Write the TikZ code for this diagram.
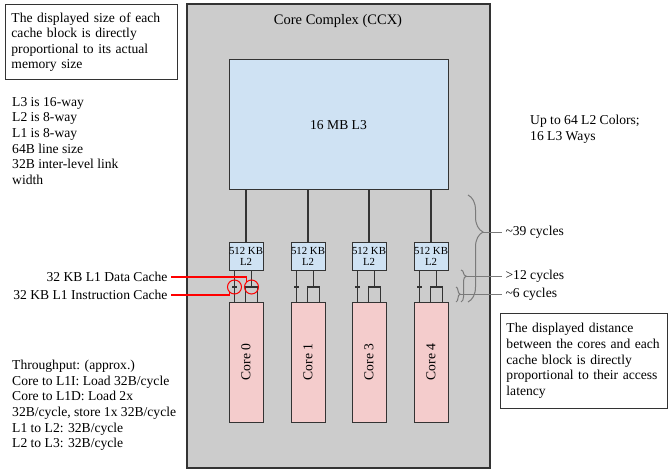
\documentclass[tikz,border=0pt]{standalone}
\usepackage{fontspec}
\setmainfont{Liberation Serif}
\usepackage{graphicx}
\usetikzlibrary{calc,decorations.pathreplacing}
\definecolor{ccxgray}{HTML}{CCCCCC}
\definecolor{cacheblue}{HTML}{CFE2F3}
\definecolor{corepink}{HTML}{F4CCCC}
\definecolor{wiregray}{HTML}{333333}
\definecolor{bracegray}{HTML}{7A7A7A}
\newcommand{\lonewires}[2]{%
  \coordinate (#1i) at ($(#1.south west)+(6,16)$);
  \coordinate (#1d) at ($(#1.south west)+(23,16)$);
  \coordinate (#1dl) at ($(#1d)+(-6,0)$);
  \coordinate (#1dr) at ($(#1d)+(6,0)$);
  \draw[wire] (#1.south -| #1i) -- (#2.north -| #1i);
  \draw[wire] (#1.south -| #1d) -- (#1d);
  \draw[wire] (#2.north -| #1dl) -- (#1dl) -- (#1dr) -- (#2.north -| #1dr);
  \fill[wiregray] ($(#1i)+(-2.5,-1.2)$) rectangle ($(#1i)+(2.5,1.2)$);
  \fill[wiregray] ($(#1d)+(-2.5,-1.2)$) rectangle ($(#1d)+(2.5,1.2)$);
}

\begin{document}
\begin{tikzpicture}[x=1pt, y=-1pt,
    every node/.style={font=\fontsize{13.6}{15.6}\selectfont},
    ccxbox/.style={draw=wiregray, fill=ccxgray, line width=1.2pt, minimum width=303pt, minimum height=464pt, inner sep=0},
    l3box/.style={draw=wiregray, fill=cacheblue, line width=1pt, minimum width=219pt, minimum height=130pt},
    l2box/.style={draw=wiregray, fill=cacheblue, line width=1pt, minimum width=34pt, minimum height=28pt, inner sep=0, align=center, font=\fontsize{10.8}{10.5}\selectfont},
    corebox/.style={draw=wiregray, fill=corepink, line width=1pt, minimum width=34pt, minimum height=120pt, inner sep=0},
    wire/.style={draw=wiregray, line width=1.2pt},
    pointer/.style={draw=red, line width=1.4pt},
    ring/.style={circle, draw=red, line width=1pt, minimum size=14pt, inner sep=0},
    notebox/.style={draw=black!80, line width=0.9pt, align=left, anchor=north west},
    plaintext/.style={align=left, anchor=north west, inner sep=0},
    latbrace/.style n args={2}{decorate, decoration={brace, amplitude=#1, aspect=#2}, draw=bracegray, line width=1pt},
    latline/.style={draw=bracegray, line width=1pt}]
  \useasboundingbox (0,0) rectangle (668,470);

  % core complex
  \node[ccxbox] (ccx) at (338.5,236) {};
  \node[font=\fontsize{14.5}{16}\selectfont] (ccxtitle) at (338,21) {Core Complex (CCX)};
  \node[l3box] (lthree) at (338.5,125) {16 MB L3};

  \node[l2box] (ltwoA) at (246,256.5) {512 KB\\L2};
  \node[l2box] (ltwoB) at (308,256.5) {512 KB\\L2};
  \node[l2box] (ltwoC) at (369,256.5) {512 KB\\L2};
  \node[l2box] (ltwoD) at (431,256.5) {512 KB\\L2};

  \node[corebox] (coreA) at (246,362) {\rotatebox{90}{Core 0}};
  \node[corebox] (coreB) at (308,362) {\rotatebox{90}{Core 1}};
  \node[corebox] (coreC) at (369,362) {\rotatebox{90}{Core 3}};
  \node[corebox] (coreD) at (431,362) {\rotatebox{90}{Core 4}};

  \draw[wire] (ltwoA.north) -- (ltwoA.north |- lthree.south);
  \draw[wire] (ltwoB.north) -- (ltwoB.north |- lthree.south);
  \draw[wire] (ltwoC.north) -- (ltwoC.north |- lthree.south);
  \draw[wire] (ltwoD.north) -- (ltwoD.north |- lthree.south);

  \lonewires{ltwoA}{coreA}
  \lonewires{ltwoB}{coreB}
  \lonewires{ltwoC}{coreC}
  \lonewires{ltwoD}{coreD}

  % L1 call-outs
  \node[ring] (ringI) at (ltwoAi) {};
  \node[ring] (ringD) at (ltwoAd) {};
  \node[anchor=east] (ldata) at (171,277) {32 KB L1 Data Cache};
  \node[anchor=east] (linst) at (171,295) {32 KB L1 Instruction Cache};
  \draw[pointer] (ldata.east) -| (ringD.135);
  \draw[pointer] (linst.east) -| (ringI.225);

  % latencies
  \draw[latbrace={15pt}{0.346}] (468,195) -- (468,302);
  \draw[latbrace={5pt}{0.19}] (461,270) -- (461,302);
  \draw[latbrace={4pt}{0.47}] (456,287) -- (456,302);
  \coordinate (tipA) at (483,232);
  \coordinate (tipB) at (466,276);
  \coordinate (tipC) at (460,294.5);
  \node[anchor=west] (latA) at (502,232) {\textasciitilde39 cycles};
  \node[anchor=west] (latB) at (502,276) {>12 cycles};
  \node[anchor=west] (latC) at (502,294.5) {\textasciitilde6 cycles};
  \draw[latline] (tipA) -- (latA.west);
  \draw[latline] (tipB) -- (latB.west);
  \draw[latline] (tipC) -- (latC.west);

  % notes
  \node[notebox, text width=160pt, inner xsep=6pt, inner ysep=8pt] (sizenote) at (5,4)
    {The displayed size of each\\cache block is directly\\proportional to its actual\\memory size};
  \node[plaintext] (ways) at (12,97)
    {L3 is 16-way\\L2 is 8-way\\L1 is 8-way\\64B line size\\32B inter-level link\\width};
  \node[plaintext] (colors) at (530,115) {Up to 64 L2 Colors;\\16 L3 Ways};
  \node[notebox, text width=155pt, inner xsep=6pt, inner ysep=10pt] (distnote) at (500,313)
    {The displayed distance\\between the cores and each\\cache block is directly\\proportional to their access\\latency};
  \node[plaintext] (throughput) at (12,360)
    {Throughput: (approx.)\\Core to L1I: Load 32B/cycle\\Core to L1D: Load 2x\\32B/cycle, store 1x 32B/cycle\\L1 to L2: 32B/cycle\\L2 to L3: 32B/cycle};
\end{tikzpicture}
\end{document}
